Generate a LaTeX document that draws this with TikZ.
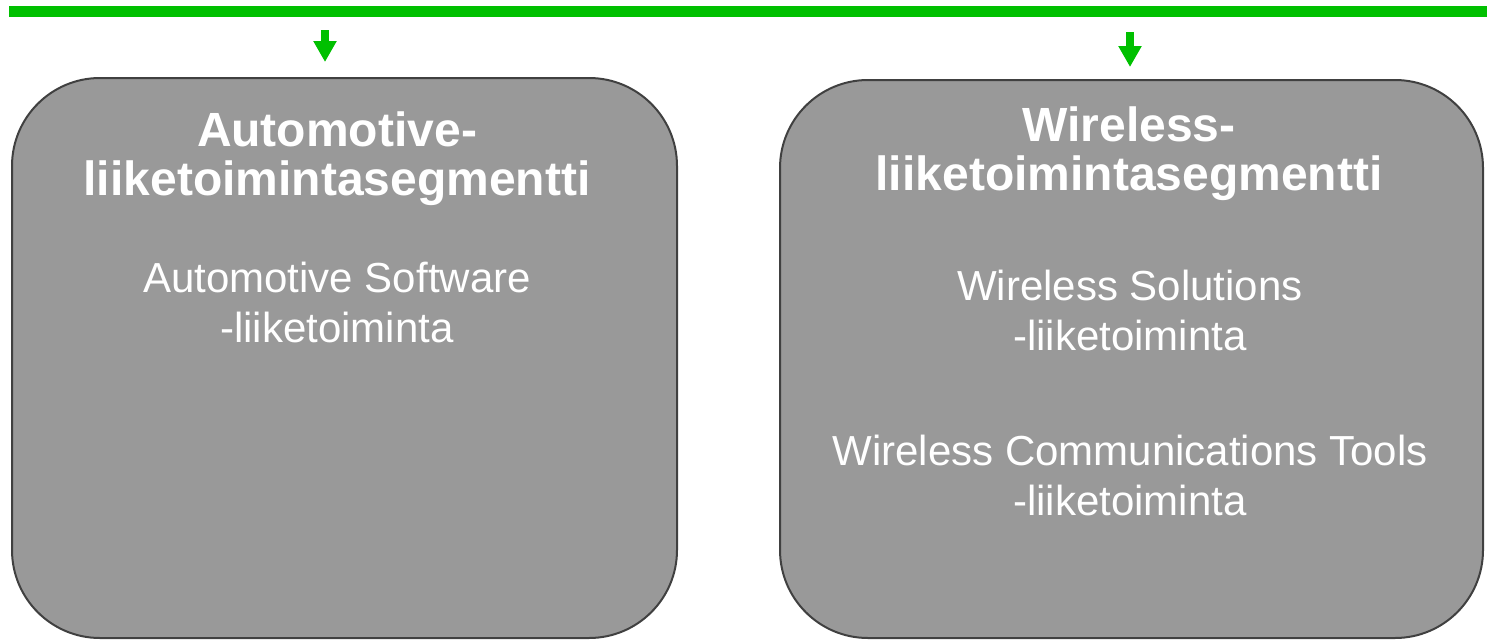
\documentclass[tikz,border=0pt]{standalone}
\usepackage{fontspec}
\setmainfont{Liberation Sans}
\usetikzlibrary{arrows.meta}
\definecolor{barGreen}{RGB}{0,192,0}
\definecolor{boxGray}{RGB}{153,153,153}
\definecolor{boxLine}{RGB}{64,64,64}
\tikzset{
  segbox/.style={draw=boxLine, line width=2pt, fill=boxGray, rounded corners=88pt, inner sep=0pt},
  titletext/.style={text=white, font=\bfseries\fontsize{48}{49}\selectfont, align=center, inner sep=0pt, anchor=north},
  subtext/.style={text=white, font=\fontsize{42}{49.5}\selectfont, align=center, inner sep=0pt, anchor=north},
  feed/.style={draw=barGreen, line width=7.5pt, -{Triangle[width=22pt, length=21pt]}, barGreen}
}
\begin{document}
\begin{tikzpicture}[x=1pt, y=-1pt]
    \useasboundingbox (0,0) rectangle (1487,640);
    \node [fill=barGreen, inner sep=0pt, minimum width=1478pt, minimum height=11pt] (bar) at (748,11.5) {};

    \node [segbox, minimum width=665pt, minimum height=560pt] (auto) at (344.5,358) {};
    \node [segbox, minimum width=703pt, minimum height=558pt] (wire) at (1131.5,359) {};

    \coordinate (autoout) at (325,30);
    \coordinate (autoin) at (325,62);
    \coordinate (wireout) at (1130,32);
    \coordinate (wirein) at (1130,67);

    \draw [feed] (autoout) -- (autoin);
    \draw [feed] (wireout) -- (wirein);

    \node [titletext] (autotitle) at (337,112) {Automotive-\\liiketoimintasegmentti};
    \node [subtext] (autosw) at (337,262) {Automotive Software\\-liiketoiminta};

    \node [titletext] (wiretitle) at (1129,107) {Wireless-\\liiketoimintasegmentti};
    \node [subtext] (wiresol) at (1130,270) {Wireless Solutions\\-liiketoiminta};
    \node [subtext] (wirecom) at (1130,435) {Wireless Communications Tools\\-liiketoiminta};
\end{tikzpicture}
\end{document}
